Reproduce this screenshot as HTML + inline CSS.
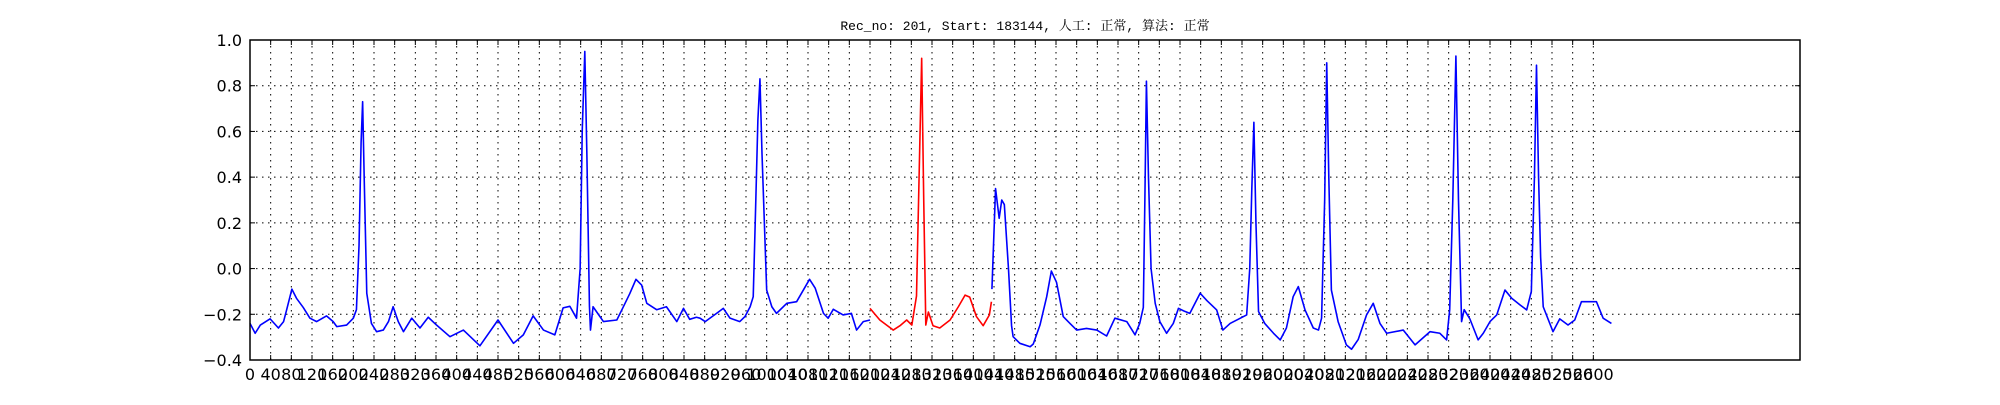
<!DOCTYPE html>
<html><head><meta charset="utf-8"><style>
html,body{margin:0;padding:0;background:#fff;}
svg text{font-family:"DejaVu Sans","Liberation Sans",sans-serif;}
</style></head><body>
<svg id="chart" width="2000" height="400" xmlns="http://www.w3.org/2000/svg">
<rect x="0" y="0" width="2000" height="400" fill="#fff"/>
<text x="1025" y="30" text-anchor="middle" font-size="13" style="font-family:'Liberation Mono','Noto Serif CJK SC',monospace" fill="#000">Rec_no: 201, Start: 183144, 人工: 正常, 算法: 正常</text>
<g id="grid"></g>
<g id="series"></g>
<rect x="250" y="40" width="1550" height="320" fill="none" stroke="#000" stroke-width="1.5"/>
<g id="axes"></g>
</svg>
<script>
const yTicks = [1.0, 0.8, 0.6, 0.4, 0.2, 0.0, -0.2, -0.4];
const yTickLabels = ["1.0","0.8","0.6","0.4","0.2","0.0","\u22120.2","\u22120.4"];
const xTickStep = 40;
const xTickMax = 2600;
const blueX1 = [0,10,20,39,55,65,71,81,90,103,116,129,148,161,168,187,200,206,211,215,218,221,226,235,245,258,268,277,287,297,313,329,345,361,387,413,445,480,510,529,548,568,590,606,619,632,639,643,648,652,657,659,664,684,710,722,735,747,758,768,787,806,826,839,851,864,871,881,903,916,929,948,958,968,974,979,983,987,991,1000,1010,1019,1039,1058,1083,1094,1110,1119,1129,1148,1164,1174,1187,1200];
const blueY1 = [-0.24,-0.283,-0.247,-0.22,-0.26,-0.232,-0.18,-0.09,-0.13,-0.17,-0.217,-0.232,-0.207,-0.232,-0.254,-0.247,-0.217,-0.18,0.1,0.55,0.73,0.4,-0.108,-0.24,-0.276,-0.269,-0.232,-0.167,-0.232,-0.276,-0.217,-0.26,-0.213,-0.247,-0.298,-0.269,-0.338,-0.225,-0.327,-0.29,-0.207,-0.269,-0.29,-0.172,-0.165,-0.217,0.0,0.6,0.95,0.5,-0.165,-0.269,-0.167,-0.232,-0.225,-0.17,-0.11,-0.047,-0.072,-0.152,-0.18,-0.167,-0.232,-0.174,-0.222,-0.213,-0.217,-0.232,-0.196,-0.174,-0.217,-0.232,-0.21,-0.167,-0.123,0.3,0.65,0.83,0.5,-0.094,-0.167,-0.196,-0.152,-0.145,-0.047,-0.086,-0.196,-0.217,-0.178,-0.203,-0.196,-0.269,-0.232,-0.225];
const redX = [1200,1219,1245,1258,1271,1281,1290,1295,1300,1304,1308,1313,1322,1335,1355,1371,1384,1393,1406,1419,1431,1435];
const redY = [-0.174,-0.225,-0.269,-0.25,-0.225,-0.247,-0.12,0.4,0.92,0.3,-0.247,-0.19,-0.25,-0.26,-0.225,-0.167,-0.116,-0.125,-0.21,-0.25,-0.203,-0.145];
const blueX2 = [1436,1443,1450,1455,1460,1468,1474,1477,1490,1510,1516,1529,1542,1551,1561,1574,1587,1600,1619,1639,1658,1674,1697,1713,1722,1729,1732,1735,1739,1744,1752,1761,1774,1787,1797,1807,1819,1839,1852,1871,1883,1897,1929,1935,1939,1943,1947,1952,1964,1981,1994,2006,2019,2029,2042,2058,2068,2074,2080,2084,2088,2093,2106,2122,2132,2145,2161,2174,2187,2200,2232,2255,2284,2303,2316,2322,2328,2334,2339,2345,2350,2361,2377,2387,2400,2413,2429,2442,2458,2471,2480,2486,2490,2494,2498,2503,2522,2535,2551,2564,2577,2593,2606,2619,2635];
const blueY2 = [-0.09,0.35,0.22,0.3,0.28,0.0,-0.25,-0.298,-0.327,-0.342,-0.33,-0.247,-0.123,-0.011,-0.06,-0.21,-0.24,-0.269,-0.262,-0.269,-0.295,-0.217,-0.232,-0.29,-0.24,-0.17,0.3,0.82,0.4,0.0,-0.152,-0.232,-0.283,-0.24,-0.174,-0.185,-0.196,-0.108,-0.14,-0.181,-0.269,-0.24,-0.203,0.0,0.35,0.64,0.2,-0.188,-0.24,-0.283,-0.312,-0.26,-0.123,-0.079,-0.181,-0.26,-0.269,-0.217,0.3,0.9,0.4,-0.094,-0.232,-0.334,-0.353,-0.31,-0.203,-0.152,-0.24,-0.283,-0.269,-0.334,-0.276,-0.283,-0.312,-0.18,0.3,0.93,0.3,-0.232,-0.18,-0.22,-0.312,-0.283,-0.232,-0.203,-0.094,-0.13,-0.159,-0.181,-0.1,0.4,0.89,0.4,0.05,-0.167,-0.276,-0.22,-0.247,-0.225,-0.145,-0.145,-0.145,-0.217,-0.24];

const L=250,R=1800,T=40,B=360,XMAX=3000,YMIN=-0.4,YMAX=1.0;
const sx = v => L + (v/XMAX)*(R-L);
const sy = v => B - (v-YMIN)/(YMAX-YMIN)*(B-T);
const NS="http://www.w3.org/2000/svg";
const grid=document.getElementById('grid'), axes=document.getElementById('axes'), ser=document.getElementById('series');
function mk(tag, attrs){const e=document.createElementNS(NS,tag);for(const k in attrs)e.setAttribute(k,attrs[k]);return e;}
for(let i=0;i<yTicks.length;i++){
  const y=sy(yTicks[i]);
  const g=mk('line',{x1:L,x2:R,y1:y,y2:y,stroke:'#000','stroke-width':1,'stroke-dasharray':'1.5,4.5'});
  
  
  grid.appendChild(g);
  const t1=mk('line',{x1:L,x2:L+5,y1:y,y2:y,stroke:'#000','stroke-width':1});
  
  
  axes.appendChild(t1);
  const t2=mk('line',{x1:R-5,x2:R,y1:y,y2:y,stroke:'#000','stroke-width':1});
  
  
  axes.appendChild(t2);
  const tx=mk('text',{x:L-8,y:y+6,'text-anchor':'end','font-size':16,fill:'#000'});
  tx.textContent=yTickLabels[i];
  
  
  axes.appendChild(tx);
}
for(let v=0; v<=xTickMax; v+=xTickStep){
  const x=sx(v);
  const g=mk('line',{x1:x,x2:x,y1:T,y2:B,stroke:'#000','stroke-width':1,'stroke-dasharray':'1.5,4.5'});
  
  
  grid.appendChild(g);
  const t1=mk('line',{x1:x,x2:x,y1:B-5,y2:B,stroke:'#000','stroke-width':1});
  
  
  axes.appendChild(t1);
  const t2=mk('line',{x1:x,x2:x,y1:T,y2:T+5,stroke:'#000','stroke-width':1});
  
  
  axes.appendChild(t2);
  const tx=mk('text',{x:x,y:B+20,'text-anchor':'middle','font-size':16,fill:'#000'});
  tx.textContent=String(v);
  
  
  axes.appendChild(tx);
}
function drawLine(xs,ys,color,name){
  const d=xs.map((x,i)=>(i?'L':'M')+sx(x).toFixed(2)+','+sy(ys[i]).toFixed(2)).join(' ');
  const p=mk('path',{d:d,fill:'none',stroke:color,'stroke-width':1.6,'stroke-linejoin':'round'});
  
  
  ser.appendChild(p);
}
drawLine(blueX1,blueY1,'#0000ff','ecg-series-blue-1');
drawLine(redX,redY,'#ff0000','ecg-series-red');
drawLine(blueX2,blueY2,'#0000ff','ecg-series-blue-2');
</script>
</body></html>
